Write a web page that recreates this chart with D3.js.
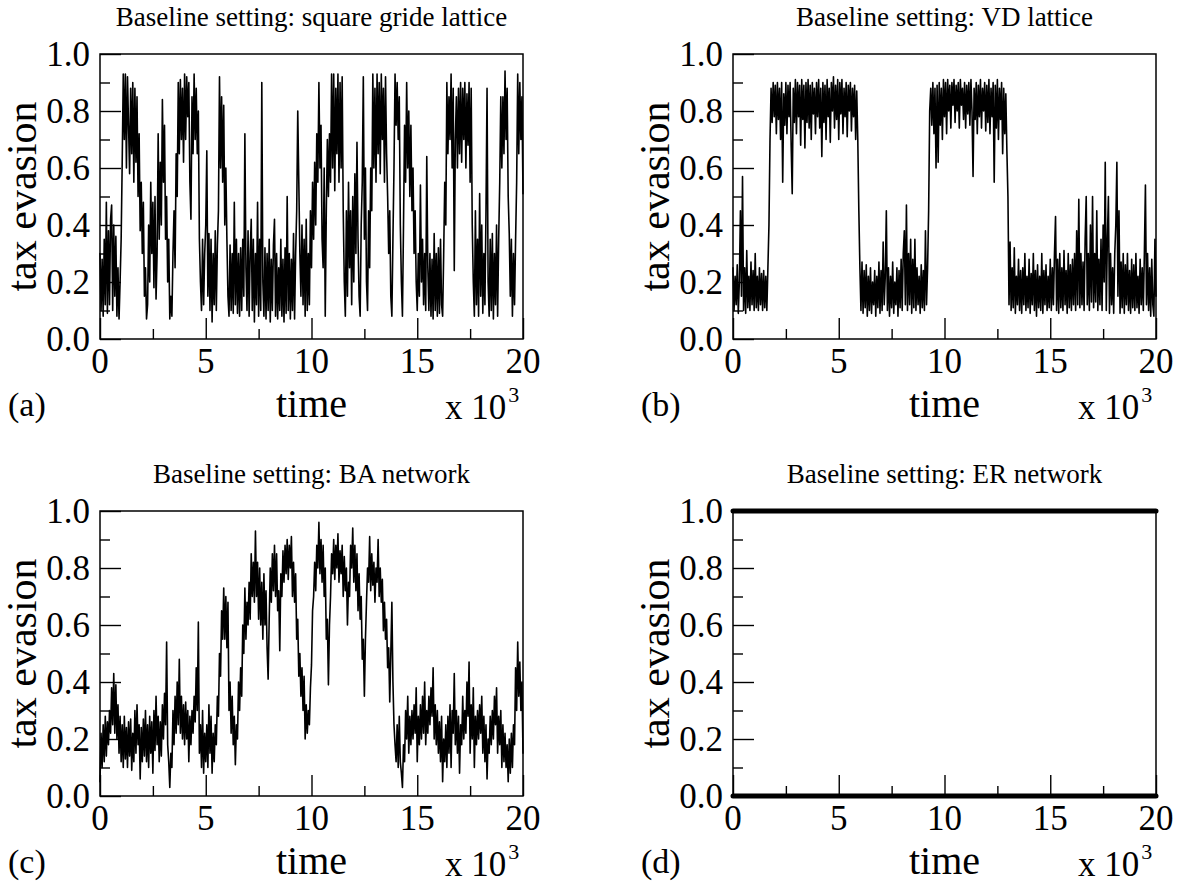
<!DOCTYPE html>
<html>
<head>
<meta charset="utf-8">
<script src="https://cdn.jsdelivr.net/npm/d3@7"></script>
<style>
  html, body { margin: 0; padding: 0; background: #fff; }
  svg { display: block; }
  text { font-family: "Liberation Serif", "Times New Roman", serif; fill: #000; }
</style>
</head>
<body>
<svg id="chart" width="1190" height="884"></svg>
<script>
// ---------------- data ----------------
const panelTitles = [
  "Baseline setting: square gride lattice",
  "Baseline setting: VD lattice",
  "Baseline setting: BA network",
  "Baseline setting: ER network"
];
const panelTags = ["(a)", "(b)", "(c)", "(d)"];
const xMajorTicks = [0, 5, 10, 15, 20];
const xMinorTicks = [2.5, 7.5, 12.5, 17.5];
const yMajorTicks = [0.0, 0.2, 0.4, 0.6, 0.8, 1.0];
const yMinorTicks = [0.1, 0.3, 0.5, 0.7, 0.9];

// sample times (x 10^3), one every 50 steps
const sampleTimes = d3.range(0, 401).map(i => i / 20);

// (a) square grid lattice — one row per 1000 steps
const squareLattice = [
  0.30,0.10,0.28,0.08,0.35,0.12,0.48,0.09,0.38,0.12,0.42,0.47,0.10,0.40,0.15,0.36,0.08,0.25,0.07,0.20,
  0.35,0.62,0.93,0.70,0.93,0.60,0.92,0.75,0.58,0.88,0.65,0.90,0.55,0.88,0.62,0.85,0.50,0.72,0.38,0.55,
  0.30,0.48,0.15,0.25,0.07,0.12,0.40,0.20,0.55,0.30,0.48,0.18,0.50,0.14,0.30,0.72,0.35,0.62,0.40,0.84,
  0.55,0.75,0.35,0.50,0.20,0.35,0.07,0.15,0.08,0.30,0.45,0.25,0.65,0.50,0.90,0.65,0.91,0.70,0.88,0.62,
  0.93,0.70,0.92,0.78,0.90,0.55,0.42,0.85,0.65,0.93,0.70,0.88,0.65,0.80,0.35,0.20,0.10,0.35,0.12,0.30,
  0.40,0.66,0.15,0.37,0.10,0.35,0.06,0.30,0.12,0.38,0.10,0.33,0.45,0.92,0.60,0.85,0.55,0.82,0.40,0.60,
  0.35,0.15,0.08,0.33,0.10,0.30,0.09,0.48,0.12,0.35,0.09,0.30,0.08,0.32,0.10,0.35,0.15,0.72,0.25,0.10,
  0.38,0.08,0.30,0.42,0.10,0.35,0.06,0.30,0.12,0.48,0.08,0.35,0.10,0.90,0.20,0.08,0.32,0.07,0.30,0.10,
  0.35,0.06,0.28,0.10,0.33,0.42,0.08,0.30,0.07,0.25,0.10,0.35,0.08,0.28,0.06,0.32,0.09,0.50,0.10,0.30,
  0.07,0.28,0.10,0.37,0.07,0.30,0.45,0.80,0.55,0.30,0.15,0.40,0.12,0.35,0.08,0.42,0.10,0.30,0.12,0.45,
  0.25,0.55,0.35,0.62,0.40,0.72,0.55,0.90,0.60,0.75,0.35,0.25,0.60,0.08,0.45,0.70,0.50,0.72,0.55,0.93,
  0.60,0.93,0.52,0.88,0.65,0.93,0.55,0.90,0.60,0.92,0.45,0.20,0.08,0.45,0.15,0.55,0.25,0.45,0.12,0.50,
  0.20,0.58,0.30,0.69,0.35,0.15,0.08,0.40,0.55,0.92,0.35,0.60,0.20,0.10,0.45,0.25,0.60,0.45,0.93,0.60,
  0.88,0.55,0.93,0.65,0.90,0.58,0.93,0.70,0.88,0.55,0.92,0.65,0.50,0.30,0.45,0.15,0.08,0.35,0.60,0.93,
  0.75,0.90,0.70,0.85,0.40,0.20,0.08,0.40,0.75,0.55,0.90,0.60,0.80,0.50,0.75,0.45,0.60,0.30,0.45,0.20,
  0.10,0.30,0.15,0.54,0.20,0.35,0.12,0.30,0.10,0.64,0.25,0.10,0.30,0.08,0.28,0.07,0.37,0.10,0.30,0.08,
  0.32,0.09,0.35,0.12,0.08,0.30,0.55,0.40,0.90,0.65,0.85,0.70,0.93,0.60,0.88,0.24,0.70,0.85,0.60,0.88,
  0.65,0.90,0.62,0.88,0.70,0.90,0.60,0.86,0.68,0.90,0.55,0.88,0.40,0.20,0.08,0.45,0.12,0.35,0.08,0.51,
  0.15,0.40,0.09,0.30,0.12,0.45,0.88,0.20,0.08,0.35,0.10,0.37,0.07,0.30,0.12,0.40,0.08,0.35,0.55,0.85,
  0.60,0.85,0.65,0.94,0.70,0.88,0.50,0.37,0.15,0.35,0.08,0.30,0.12,0.35,0.55,0.93,0.65,0.90,0.70,0.85,
  0.51
];

// (b) VD lattice
const vdLattice = [
  0.25,0.10,0.22,0.12,0.26,0.09,0.20,0.45,0.15,0.57,0.10,0.25,0.09,0.31,0.11,0.22,0.10,0.27,0.12,0.24,
  0.10,0.30,0.11,0.22,0.10,0.25,0.12,0.23,0.10,0.24,0.11,0.22,0.10,0.25,0.40,0.70,0.88,0.76,0.90,0.78,
  0.89,0.72,0.90,0.77,0.88,0.70,0.90,0.55,0.86,0.75,0.90,0.72,0.89,0.78,0.90,0.68,0.51,0.88,0.76,0.91,
  0.72,0.90,0.78,0.89,0.68,0.91,0.77,0.89,0.67,0.90,0.76,0.91,0.74,0.89,0.70,0.90,0.79,0.88,0.72,0.90,
  0.78,0.91,0.74,0.88,0.64,0.90,0.76,0.89,0.70,0.91,0.78,0.88,0.69,0.90,0.80,0.92,0.74,0.89,0.77,0.91,
  0.70,0.90,0.79,0.91,0.72,0.88,0.78,0.90,0.71,0.89,0.80,0.90,0.73,0.88,0.78,0.89,0.70,0.87,0.70,0.45,
  0.25,0.10,0.27,0.09,0.24,0.11,0.26,0.08,0.22,0.10,0.25,0.09,0.20,0.12,0.24,0.08,0.22,0.11,0.27,0.09,
  0.24,0.10,0.34,0.12,0.22,0.45,0.10,0.25,0.08,0.22,0.11,0.27,0.09,0.20,0.12,0.25,0.08,0.24,0.11,0.28,
  0.10,0.30,0.38,0.12,0.47,0.10,0.30,0.12,0.35,0.09,0.28,0.11,0.35,0.10,0.25,0.12,0.22,0.09,0.26,0.11,
  0.24,0.10,0.38,0.12,0.25,0.45,0.80,0.88,0.75,0.90,0.72,0.88,0.60,0.89,0.62,0.90,0.75,0.88,0.70,0.91,
  0.78,0.90,0.72,0.91,0.80,0.89,0.74,0.90,0.82,0.91,0.76,0.89,0.80,0.90,0.74,0.91,0.82,0.88,0.77,0.90,
  0.74,0.89,0.79,0.90,0.75,0.91,0.80,0.57,0.88,0.77,0.90,0.72,0.89,0.78,0.91,0.74,0.88,0.80,0.90,0.73,
  0.89,0.76,0.91,0.72,0.88,0.78,0.90,0.55,0.89,0.74,0.91,0.70,0.88,0.77,0.90,0.65,0.88,0.72,0.86,0.66,
  0.50,0.12,0.34,0.10,0.25,0.11,0.32,0.09,0.22,0.12,0.28,0.10,0.24,0.09,0.25,0.12,0.30,0.10,0.22,0.11,
  0.28,0.09,0.23,0.12,0.30,0.10,0.24,0.08,0.26,0.11,0.22,0.10,0.30,0.09,0.24,0.12,0.26,0.10,0.22,0.11,
  0.28,0.10,0.25,0.12,0.30,0.43,0.10,0.28,0.09,0.30,0.11,0.25,0.10,0.31,0.12,0.24,0.09,0.30,0.11,0.26,
  0.10,0.28,0.12,0.30,0.10,0.38,0.12,0.49,0.11,0.30,0.12,0.27,0.10,0.35,0.50,0.12,0.30,0.10,0.40,0.13,
  0.50,0.11,0.30,0.13,0.45,0.10,0.28,0.12,0.35,0.10,0.40,0.20,0.62,0.10,0.35,0.50,0.09,0.30,0.12,0.25,
  0.09,0.30,0.40,0.62,0.15,0.45,0.09,0.27,0.11,0.30,0.09,0.26,0.12,0.30,0.10,0.24,0.09,0.28,0.11,0.26,
  0.10,0.30,0.11,0.22,0.09,0.28,0.12,0.25,0.10,0.30,0.54,0.12,0.30,0.10,0.25,0.08,0.28,0.12,0.08,0.35,
  0.15
];

// (c) BA network
const baNetwork = [
  0.05,0.22,0.10,0.25,0.12,0.28,0.14,0.26,0.18,0.30,0.22,0.38,0.25,0.43,0.22,0.39,0.20,0.32,0.15,0.28,
  0.12,0.25,0.10,0.28,0.13,0.24,0.10,0.26,0.14,0.27,0.09,0.22,0.12,0.30,0.15,0.32,0.18,0.25,0.06,0.24,
  0.12,0.27,0.14,0.30,0.12,0.25,0.10,0.28,0.15,0.26,0.08,0.30,0.16,0.35,0.18,0.28,0.12,0.26,0.14,0.32,
  0.20,0.36,0.25,0.54,0.18,0.12,0.03,0.15,0.10,0.30,0.18,0.35,0.22,0.40,0.25,0.48,0.22,0.35,0.20,0.32,
  0.18,0.33,0.20,0.30,0.12,0.28,0.18,0.30,0.22,0.35,0.26,0.45,0.30,0.61,0.15,0.25,0.10,0.30,0.08,0.22,
  0.12,0.25,0.10,0.32,0.15,0.28,0.08,0.22,0.12,0.25,0.18,0.35,0.28,0.50,0.42,0.65,0.55,0.73,0.55,0.70,
  0.52,0.68,0.30,0.40,0.22,0.35,0.18,0.28,0.11,0.25,0.20,0.40,0.30,0.45,0.35,0.60,0.50,0.73,0.55,0.68,
  0.60,0.75,0.62,0.85,0.70,0.82,0.68,0.93,0.70,0.82,0.62,0.80,0.60,0.75,0.55,0.78,0.60,0.72,0.52,0.41,
  0.62,0.80,0.68,0.85,0.72,0.88,0.70,0.85,0.65,0.72,0.51,0.78,0.70,0.86,0.75,0.88,0.78,0.90,0.76,0.88,
  0.80,0.91,0.70,0.82,0.68,0.78,0.55,0.62,0.42,0.50,0.35,0.45,0.30,0.42,0.20,0.32,0.22,0.30,0.25,0.38,
  0.46,0.65,0.70,0.82,0.72,0.88,0.80,0.96,0.78,0.90,0.75,0.88,0.70,0.80,0.55,0.62,0.39,0.60,0.70,0.85,
  0.78,0.90,0.76,0.88,0.80,0.92,0.75,0.86,0.78,0.88,0.70,0.84,0.72,0.80,0.60,0.75,0.70,0.88,0.80,0.94,
  0.75,0.88,0.72,0.85,0.65,0.78,0.62,0.70,0.48,0.55,0.35,0.55,0.68,0.80,0.75,0.91,0.72,0.85,0.74,0.82,
  0.68,0.80,0.75,0.90,0.70,0.80,0.68,0.76,0.58,0.68,0.55,0.62,0.45,0.52,0.33,0.50,0.68,0.40,0.25,0.18,
  0.12,0.25,0.10,0.28,0.12,0.08,0.03,0.18,0.12,0.30,0.20,0.35,0.15,0.28,0.18,0.30,0.20,0.32,0.22,0.38,
  0.12,0.28,0.18,0.32,0.20,0.35,0.22,0.40,0.18,0.30,0.22,0.35,0.25,0.38,0.28,0.45,0.20,0.32,0.18,0.30,
  0.15,0.26,0.12,0.28,0.05,0.20,0.12,0.25,0.10,0.28,0.15,0.32,0.10,0.30,0.22,0.43,0.18,0.30,0.15,0.28,
  0.08,0.25,0.18,0.35,0.20,0.30,0.22,0.40,0.28,0.47,0.15,0.32,0.20,0.38,0.10,0.28,0.18,0.30,0.20,0.32,
  0.22,0.35,0.15,0.28,0.12,0.25,0.06,0.20,0.15,0.28,0.18,0.30,0.20,0.35,0.25,0.38,0.15,0.28,0.18,0.30,
  0.10,0.25,0.12,0.22,0.10,0.18,0.05,0.20,0.08,0.22,0.10,0.25,0.18,0.45,0.30,0.54,0.35,0.47,0.30,0.40,
  0.15
];

// (d) ER network: two flat states
const erTimes = [0, 20];
const erHigh = [1.0, 1.0];
const erLow = [0.0, 0.0];

// ---------------- drawing ----------------
const svg = d3.select("#chart");
const FONT = "'Liberation Serif', 'Times New Roman', serif";
const PW = 423, PH = 285;
const boxes = [[100, 54], [733, 54], [100, 511], [733, 511]];

const seriesByPanel = [
  [{ t: sampleTimes, v: squareLattice, w: 1.6 }],
  [{ t: sampleTimes, v: vdLattice, w: 1.6 }],
  [{ t: sampleTimes, v: baNetwork, w: 1.6 }],
  [{ t: erTimes, v: erHigh, w: 5 }, { t: erTimes, v: erLow, w: 5 }]
];

boxes.forEach(([L, T], p) => {
  const g = svg.append("g").style("font-family", FONT);
  const x = d3.scaleLinear().domain([0, 20]).range([L, L + PW]);
  const y = d3.scaleLinear().domain([0, 1]).range([T + PH, T]);
  const B = T + PH, R = L + PW;

  // title
  g.append("text").attr("x", L + PW / 2).attr("y", T - 28)
    .attr("text-anchor", "middle").style("font-size", "27px").text(panelTitles[p]);

  // ticks (inward)
  g.append("g").attr("transform", `translate(0,${B})`)
    .call(d3.axisBottom(x).tickValues(xMajorTicks).tickSize(-21).tickFormat(""))
    .call(s => s.select(".domain").remove());
  g.append("g").attr("transform", `translate(0,${B})`)
    .call(d3.axisBottom(x).tickValues(xMinorTicks).tickSize(-10).tickFormat(""))
    .call(s => s.select(".domain").remove());
  g.append("g").attr("transform", `translate(${L},0)`)
    .call(d3.axisLeft(y).tickValues(yMajorTicks).tickSize(-21).tickFormat(""))
    .call(s => s.select(".domain").remove());
  g.append("g").attr("transform", `translate(${L},0)`)
    .call(d3.axisLeft(y).tickValues(yMinorTicks).tickSize(-10).tickFormat(""))
    .call(s => s.select(".domain").remove());
  g.selectAll(".tick line").attr("stroke", "#000").attr("stroke-width", 1.4);

  // tick labels
  g.selectAll(".xl").data(xMajorTicks).enter().append("text")
    .attr("x", d => x(d)).attr("y", B + 34).attr("text-anchor", "middle")
    .style("font-family", FONT).style("font-size", "35px").text(d => d);
  g.selectAll(".yl").data(yMajorTicks).enter().append("text")
    .attr("x", L - 10).attr("y", d => y(d)).attr("dy", "0.35em").attr("text-anchor", "end")
    .style("font-family", FONT).style("font-size", "35px").text(d => d3.format(".1f")(d));

  // data
  const line = d3.line().x(d => x(d[0])).y(d => y(d[1]));
  seriesByPanel[p].forEach(s => {
    const pts = s.v.map((v, i) => [s.t[i], v]);
    g.append("path").datum(pts).attr("d", line).attr("fill", "none")
      .attr("stroke", "#000").attr("stroke-width", s.w)
      .attr("stroke-linejoin", "round").attr("stroke-linecap", "round");
  });

  // frame
  g.append("rect").attr("x", L).attr("y", T).attr("width", PW).attr("height", PH)
    .attr("fill", "none").attr("stroke", "#000").attr("stroke-width", 1.5);

  // axis labels
  g.append("text").attr("transform", `translate(${L - 64},${T + PH / 2}) rotate(-90)`)
    .attr("text-anchor", "middle").style("font-size", "42px").text("tax evasion");
  g.append("text").attr("x", L + PW / 2).attr("y", B + 78)
    .attr("text-anchor", "middle").style("font-size", "40px").text("time");
  g.append("text").attr("x", L - 92).attr("y", B + 77)
    .style("font-size", "34px").text(panelTags[p]);
  const mult = g.append("text").attr("x", R - 78).attr("y", B + 80)
    .style("font-size", "35px");
  mult.append("tspan").text("x 10");
  mult.append("tspan").attr("dx", 2).attr("dy", -17).style("font-size", "22px").text("3");
});
</script>
</body>
</html>
